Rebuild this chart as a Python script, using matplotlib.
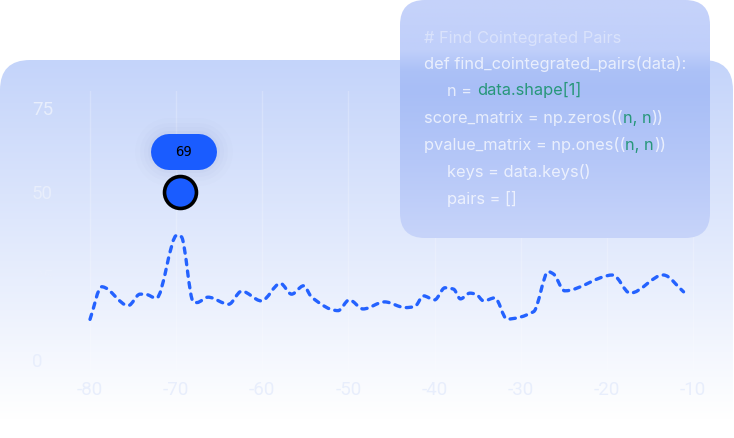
import numpy as np
import matplotlib
matplotlib.use("Agg")
import matplotlib.pyplot as plt
from matplotlib.patches import FancyBboxPatch, PathPatch
from matplotlib.lines import Line2D
from matplotlib.path import Path
import matplotlib.transforms as mtransforms

# ---- data ----
x_vals = [-80.0, -78.64, -75.55, -74.2, -73.6, -72.3, -69.9, -69.4, -68.0, -67.6,
          -66.3, -63.9, -62.4, -60.1, -57.9, -56.6, -55.2, -54.3, -51.2, -49.9,
          -48.3, -45.8, -43.4, -42.3, -41.3, -40.0, -38.8, -37.8, -37.0, -35.9,
          -35.2, -34.3, -33.0, -31.6, -28.5, -26.8, -26.2, -24.9, -19.3, -17.3,
          -13.45, -11.1]
y_vals = [12.1, 21.8, 16.2, 19.6, 19.6, 18.4, 37.2, 36.7, 17.3, 17.1,
          18.7, 16.6, 20.5, 17.6, 22.8, 19.6, 22.1, 18.8, 14.7, 17.9,
          15.2, 17.3, 15.6, 15.9, 19.1, 17.9, 21.5, 21.1, 18.2, 19.9,
          19.6, 17.6, 18.5, 12.2, 14.4, 26.3, 25.6, 20.6, 25.3, 19.9,
          25.3, 20.3]
x_ticks = [-80, -70, -60, -50, -40, -30, -20, -10]
y_ticks = [0, 25, 50, 75]
highlight_x = -69.6
highlight_y = 50
highlight_label = "69"

code_lines = [
    [("# Find Cointegrated Pairs", "comment")],
    [("def find_cointegrated_pairs(data):", "plain")],
    [("n =", "plain"), ("data.shape[1]", "green")],
    [("score_matrix = np.zeros((", "plain"), ("n, n", "green"), ("))", "plain")],
    [("pvalue_matrix = np.ones((", "plain"), ("n, n", "green"), ("))", "plain")],
    [("keys = data.keys()", "plain")],
    [("pairs = []", "plain")],
]
code_indent = [0, 0, 1, 0, 0, 1, 1]


def smooth_path(xs, ys):
    """Monotone (Fritsch-Carlson) cubic Bezier path through the given points."""
    x = np.asarray(xs, float)
    y = np.asarray(ys, float)
    h = np.diff(x)
    d = np.diff(y) / h
    m = np.zeros_like(y)
    m[0], m[-1] = d[0], d[-1]
    for i in range(1, len(y) - 1):
        if d[i - 1] * d[i] <= 0:
            m[i] = 0.0
        else:
            w1 = 2 * h[i] + h[i - 1]
            w2 = h[i] + 2 * h[i - 1]
            m[i] = (w1 + w2) / (w1 / d[i - 1] + w2 / d[i])
    verts = [(x[0], y[0])]
    codes = [Path.MOVETO]
    for i in range(len(x) - 1):
        verts += [(x[i] + h[i] / 3, y[i] + m[i] * h[i] / 3),
                  (x[i + 1] - h[i] / 3, y[i + 1] - m[i + 1] * h[i] / 3),
                  (x[i + 1], y[i + 1])]
        codes += [Path.CURVE4] * 3
    return Path(np.array(verts), codes)


# ---- figure ----
W, H = 734, 438
fig = plt.figure(figsize=(W / 100, H / 100), dpi=100)
fig.patch.set_facecolor("white")

# background layer (pixel coordinates)
bg = fig.add_axes([0, 0, 1, 1], zorder=0)
bg.set_xlim(0, W)
bg.set_ylim(H, 0)
bg.axis("off")

card = FancyBboxPatch((0, 60), 733, 440, boxstyle="round,pad=0,rounding_size=30",
                      facecolor="none", edgecolor="none")
bg.add_patch(card)
n = 200
t = np.linspace(0, 1, n)[:, None]
c0 = np.array([196, 212, 250]) / 255
c1 = np.array([255, 255, 255]) / 255
grad = (c0 * (1 - t) + c1 * t)[:, None, :]
im = bg.imshow(grad, extent=(0, 733, 420, 60), aspect="auto", interpolation="bilinear")
im.set_clip_path(card)
bg.add_patch(FancyBboxPatch((0, 420), 733, 30, boxstyle="square,pad=0",
                            facecolor="white", edgecolor="none"))

# main chart
ax = fig.add_axes([0.1191, 0.155, 0.8286, 0.6368], zorder=1)
ax.set_facecolor("none")
for s in ax.spines.values():
    s.set_visible(False)
ax.set_xlim(-80.3, -9.7)
ax.set_ylim(-3, 80)
ax.set_xticks(x_ticks)
ax.set_yticks(y_ticks)
ax.set_xticklabels([str(v) for v in x_ticks])
ax.set_yticklabels([str(v) for v in y_ticks])
ax.tick_params(axis="both", length=0, labelsize=13.5, labelcolor="#e8eefc")
ax.tick_params(axis="x", pad=8)
ax.tick_params(axis="y", pad=40)
for lab in ax.get_yticklabels():
    lab.set_ha("left")
for lab in ax.get_xticklabels() + ax.get_yticklabels():
    lab.set_fontfamily("Roboto")
ax.grid(axis="x", color="white", alpha=0.22, lw=1)
ax.grid(axis="y", visible=False)
ax.set_axisbelow(True)

line = PathPatch(smooth_path(x_vals, y_vals), fill=False, edgecolor="#2462ff", lw=2.4,
                 linestyle=(0, (1.6, 1.9)), capstyle="round", joinstyle="round",
                 zorder=3)
ax.add_patch(line)

ax.plot([highlight_x], [highlight_y], "o", ms=23, mfc="#1a5cff", mec="black", mew=2.6,
        zorder=5)

# pill label anchored to the highlight point (pixel offsets)
tr = mtransforms.Affine2D() + mtransforms.ScaledTranslation(highlight_x, highlight_y, ax.transData)
for k, a in [(16, 0.015), (11, 0.02), (7, 0.025), (3, 0.03)]:
    ax.add_line(Line2D([-11, 19], [40, 40], transform=tr, lw=(36 + 2 * k) * 0.72,
                       color=(0.35, 0.42, 0.7), alpha=a, solid_capstyle="round",
                       zorder=4, clip_on=False))
ax.add_line(Line2D([-11, 19], [40, 40], transform=tr, lw=36 * 0.72, color="#1a5cff",
                   solid_capstyle="round", zorder=6, clip_on=False))
ax.annotate(highlight_label, xy=(highlight_x, highlight_y), xytext=(4, 40),
            textcoords="offset pixels", ha="center", va="center", fontsize=10,
            family="DejaVu Sans Mono", color="black", zorder=7)

# code overlay box (frosted panel)
ov = fig.add_axes([0, 0, 1, 1], zorder=3)
ov.set_xlim(0, W)
ov.set_ylim(H, 0)
ov.axis("off")
box = FancyBboxPatch((400, 0), 310, 238, boxstyle="round,pad=0,rounding_size=25",
                     facecolor="none", edgecolor="none")
ov.add_patch(box)
stops_y = np.array([0, 50, 70, 90, 160, 238])
stops_c = np.array([[198, 211, 250], [192, 207, 250], [172, 193, 247],
                    [168, 190, 246], [181, 199, 248], [199, 212, 250]]) / 255
yy = np.linspace(0, 238, 240)
bgrad = np.stack([np.interp(yy, stops_y, stops_c[:, k]) for k in range(3)], axis=1)[:, None, :]
bim = ov.imshow(bgrad, extent=(400, 710, 238, 0), aspect="auto", interpolation="bilinear")
bim.set_clip_path(box)
ov.set_xlim(0, W)
ov.set_ylim(H, 0)

colors = {"plain": (1, 1, 1, 0.72), "comment": (1, 1, 1, 0.4), "green": "#27977a"}
line_y = [38, 64, 91, 118, 145, 172, 199]
for segs, ind, yv in zip(code_lines, code_indent, line_y):
    x0 = 424 + 23 * ind
    prev = None
    for i, (txt, kind) in enumerate(segs):
        kw = dict(fontsize=11.8, family="Inter", color=colors[kind])
        if prev is None:
            prev = ov.text(x0, yv, txt, ha="left", va="center", **kw)
        else:
            gap = 5 if segs[i - 1][0].endswith("=") else 0
            prev = ov.annotate(txt, xy=(1, 0), xycoords=prev, xytext=(gap, 0),
                               textcoords="offset pixels", ha="left", va="bottom", **kw)

fig.savefig("out.png", dpi=100)
